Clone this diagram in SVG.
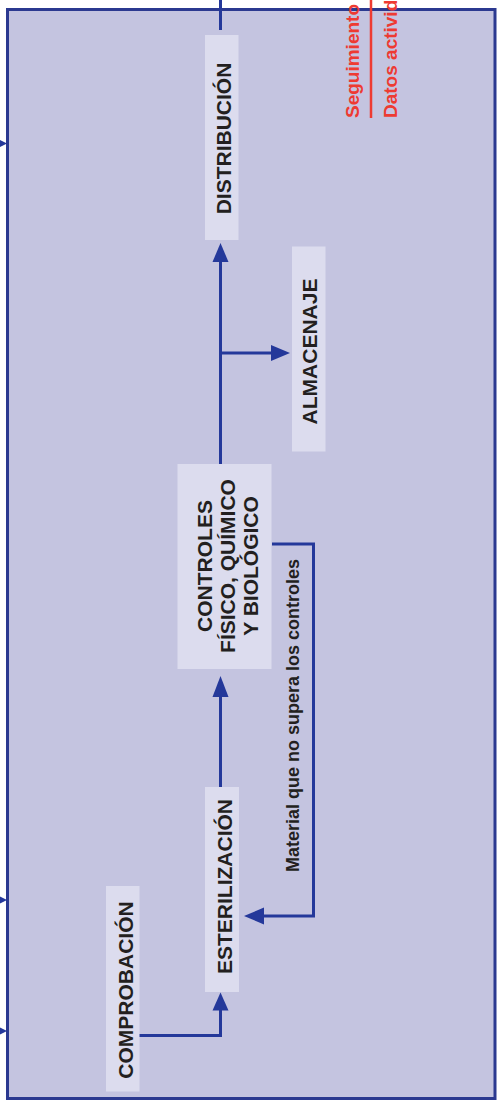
<svg xmlns="http://www.w3.org/2000/svg" width="501" height="1101" viewBox="0 0 501 1101">
<defs>
<style>
.frame{fill:#c4c4e0;stroke:#2b3990;stroke-width:3}
.box{fill:#dcdcee}
.lbl{font-family:"Liberation Sans",Arial,sans-serif;font-weight:bold;font-size:21px;fill:#231f20;text-anchor:middle}
.small{font-size:18px}
.red{font-family:"Liberation Sans",Arial,sans-serif;font-weight:bold;font-size:19px;fill:#ee3a32;text-anchor:start}
.conn{fill:none;stroke:#24389a;stroke-width:3}
.head{fill:#24389a}
</style>
</defs>
<rect class="frame" x="7.5" y="9.5" width="487.5" height="1089"/>
<g id="legend">
<line x1="371" y1="0" x2="371" y2="118" stroke="#ee3a32" stroke-width="2.5"/>
<text class="red" transform="translate(358.5,118) rotate(-90)">Seguimiento</text>
<text class="red" transform="translate(397,118) rotate(-90)">Datos activid</text>
</g>
<g id="connectors">
<line class="conn" x1="220.5" y1="0" x2="220.5" y2="30"/>
<line class="conn" x1="220.5" y1="464" x2="220.5" y2="260"/>
<polygon class="head" points="220.5,243 212.5,262 228.5,262"/>
<line class="conn" x1="220.5" y1="353" x2="272" y2="353"/>
<polygon class="head" points="290,353 271,345 271,361"/>
<line class="conn" x1="220.5" y1="787" x2="220.5" y2="694"/>
<polygon class="head" points="220.5,676 212.5,697 228.5,697"/>
<polyline class="conn" points="272,544 313.5,544 313.5,916 262,916"/>
<polygon class="head" points="244,916 264,907.5 264,924.5"/>
<polyline class="conn" points="139,1035.5 220.5,1035.5 220.5,1008"/>
<polygon class="head" points="220.5,992.5 212.5,1010.5 228.5,1010.5"/>
<line class="conn" x1="0" y1="143.5" x2="3" y2="143.5" stroke-width="2"/>
<polygon class="head" points="7,143.5 0,140 0,147"/>
<line class="conn" x1="0" y1="900" x2="3" y2="900" stroke-width="2"/>
<polygon class="head" points="7,900 0,896.5 0,903.5"/>
<line class="conn" x1="0" y1="1031" x2="3" y2="1031" stroke-width="2"/>
<polygon class="head" points="7,1031 0,1027.5 0,1034.5"/>
</g>
<g id="distribucion">
<rect class="box" x="205" y="35" width="33.5" height="205"/>
<text class="lbl" transform="translate(230.5,138.5) rotate(-90)">DISTRIBUCIÓN</text>
</g>
<g id="almacenaje">
<rect class="box" x="292" y="246.5" width="33.5" height="205"/>
<text class="lbl" transform="translate(317,351.5) rotate(-90)">ALMACENAJE</text>
</g>
<g id="controles">
<rect class="box" x="177.5" y="464" width="94" height="205"/>
<text class="lbl" transform="translate(211.5,566) rotate(-90)">CONTROLES</text>
<text class="lbl" transform="translate(234.5,566) rotate(-90)">FÍSICO, QUÍMICO</text>
<text class="lbl" transform="translate(257.5,566) rotate(-90)">Y BIOLÓGICO</text>
</g>
<g id="esterilizacion">
<rect class="box" x="205" y="787" width="34" height="205"/>
<text class="lbl" transform="translate(231.5,886.5) rotate(-90)">ESTERILIZACIÓN</text>
</g>
<g id="comprobacion">
<rect class="box" x="106" y="886" width="33.5" height="205.5"/>
<text class="lbl" transform="translate(133,990) rotate(-90)">COMPROBACIÓN</text>
</g>
<g id="rechazo-label">
<text class="lbl small" transform="translate(299,715.5) rotate(-90)">Material que no supera los controles</text>
</g>
</svg>
